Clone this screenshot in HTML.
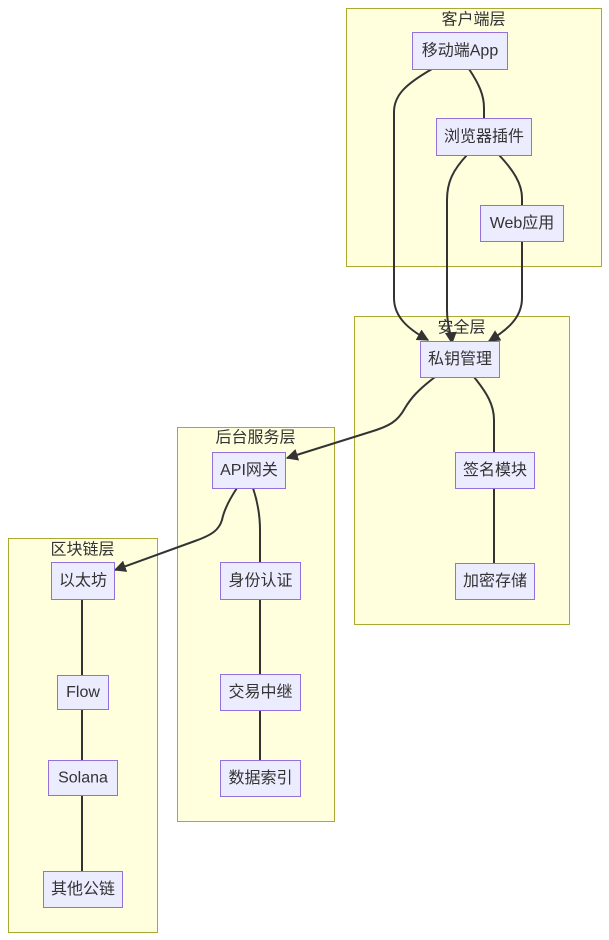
<!DOCTYPE html>
<html>
<head>
<meta charset="utf-8">
<style>
html,body{margin:0;padding:0;background:#fff;}
svg{display:block;}
text{font-family:"Liberation Sans","Noto Sans CJK SC",sans-serif;font-size:16px;fill:#333;}
.cl{fill:#ffffde;stroke:#aaaa33;stroke-width:1;}
.nd{fill:#ececff;stroke:#9370db;stroke-width:1;}
.e{fill:none;stroke:#333;stroke-width:2;}
</style>
</head>
<body>
<svg width="609" height="940" viewBox="0 0 609 940" xmlns="http://www.w3.org/2000/svg">
<defs>
<marker id="ah" viewBox="0 0 10 10" refX="9" refY="5" markerWidth="12" markerHeight="12" markerUnits="userSpaceOnUse" orient="auto">
<path d="M0,0 L10,5 L0,10 z" fill="#333"/>
</marker>
</defs>

<!-- clusters -->
<rect class="cl" x="346.5" y="8.5" width="255" height="258"/>
<rect class="cl" x="354.5" y="316.5" width="215" height="308"/>
<rect class="cl" x="177.5" y="427.5" width="157" height="394"/>
<rect class="cl" x="8.5" y="538.5" width="149" height="394"/>

<text x="473.5" y="20" text-anchor="middle" dominant-baseline="central">客户端层</text>
<text x="461.5" y="328" text-anchor="middle" dominant-baseline="central">安全层</text>
<text x="255.5" y="438" text-anchor="middle" dominant-baseline="central">后台服务层</text>
<text x="82.5" y="550" text-anchor="middle" dominant-baseline="central">区块链层</text>

<!-- edges -->
<path class="e" d="M432,69 C406,84 394,95 394,112 L394,298 C394,318 410,330 428,340" marker-end="url(#ah)"/>
<path class="e" d="M469,69 C479,84 484,95 484,108 L484,118"/>
<path class="e" d="M467,155 C453,170 447,182 447,200 L447,310 C447,326 451,334 452,343" marker-end="url(#ah)"/>
<path class="e" d="M499,155 C514,171 522,184 522,198 L522,205"/>
<path class="e" d="M522,241 L522,298 C522,318 507,330 489,341" marker-end="url(#ah)"/>

<path class="e" d="M435,377 C418,390 411,398 405,408 C398,421 390,426 370,432 L287,458" marker-end="url(#ah)"/>
<path class="e" d="M474,377 C487,393 494,405 494,420 L494,452"/>
<path class="e" d="M494,488 L494,563"/>

<path class="e" d="M237,488 C229,500 224,510 222,520 C219,530 212,535 195,541 L115,570" marker-end="url(#ah)"/>
<path class="e" d="M253,488 C258,503 260,515 260,530 L260,562"/>
<path class="e" d="M260,599 L260,674"/>
<path class="e" d="M260,710 L260,760"/>

<path class="e" d="M82,599 L82,675"/>
<path class="e" d="M82,709 L82,760"/>
<path class="e" d="M82,795 L82,871"/>

<!-- nodes -->
<rect class="nd" x="412.5" y="32.5" width="95" height="37"/>
<text x="460" y="51" text-anchor="middle" dominant-baseline="central">移动端App</text>

<rect class="nd" x="436.5" y="118.5" width="95" height="37"/>
<text x="484" y="137" text-anchor="middle" dominant-baseline="central">浏览器插件</text>

<rect class="nd" x="480.5" y="205.5" width="83" height="36"/>
<text x="522" y="223.5" text-anchor="middle" dominant-baseline="central">Web应用</text>

<rect class="nd" x="420.5" y="341.5" width="79" height="36"/>
<text x="460" y="359.5" text-anchor="middle" dominant-baseline="central">私钥管理</text>

<rect class="nd" x="455.5" y="452.5" width="79" height="36"/>
<text x="495" y="470.5" text-anchor="middle" dominant-baseline="central">签名模块</text>

<rect class="nd" x="455.5" y="563.5" width="79" height="36"/>
<text x="495" y="581.5" text-anchor="middle" dominant-baseline="central">加密存储</text>

<rect class="nd" x="212.5" y="452.5" width="73" height="36"/>
<text x="249" y="470.5" text-anchor="middle" dominant-baseline="central">API网关</text>

<rect class="nd" x="220.5" y="562.5" width="80" height="37"/>
<text x="260.5" y="581" text-anchor="middle" dominant-baseline="central">身份认证</text>

<rect class="nd" x="220.5" y="674.5" width="80" height="36"/>
<text x="260.5" y="692.5" text-anchor="middle" dominant-baseline="central">交易中继</text>

<rect class="nd" x="220.5" y="760.5" width="80" height="36"/>
<text x="260.5" y="778.5" text-anchor="middle" dominant-baseline="central">数据索引</text>

<rect class="nd" x="51.5" y="562.5" width="63" height="37"/>
<text x="83" y="581" text-anchor="middle" dominant-baseline="central">以太坊</text>

<rect class="nd" x="57.5" y="675.5" width="51" height="34"/>
<text x="83" y="692.5" text-anchor="middle" dominant-baseline="central">Flow</text>

<rect class="nd" x="48.5" y="760.5" width="69" height="35"/>
<text x="83" y="778" text-anchor="middle" dominant-baseline="central">Solana</text>

<rect class="nd" x="43.5" y="871.5" width="79" height="36"/>
<text x="83" y="889.5" text-anchor="middle" dominant-baseline="central">其他公链</text>
</svg>
</body>
</html>
